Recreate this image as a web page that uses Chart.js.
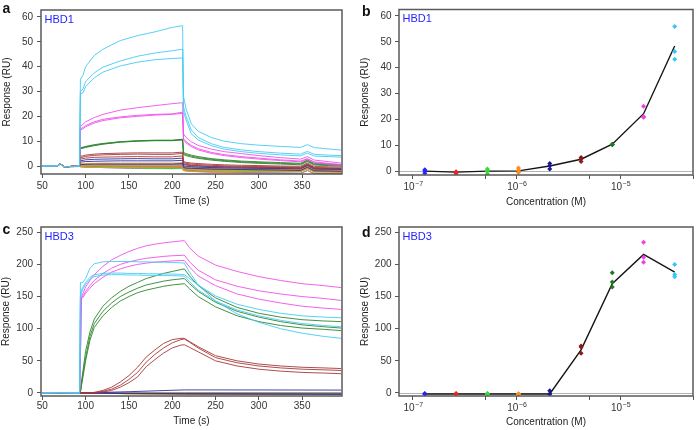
<!DOCTYPE html>
<html>
<head>
<meta charset="utf-8">
<script src="https://cdn.jsdelivr.net/npm/chart.js@4.4.1/dist/chart.umd.min.js"></script>
<style>
  body { margin: 0; background: #fff; }
  #wrap { position: relative; width: 700px; height: 430px; }
  #wrap canvas { position: absolute; }
</style>
</head>
<body>
<div id="wrap">
  <canvas id="panelA" width="350" height="215" style="left:0;top:0"></canvas>
  <canvas id="panelB" width="350" height="215" style="left:350px;top:0"></canvas>
  <canvas id="panelC" width="350" height="215" style="left:0;top:215px"></canvas>
  <canvas id="panelD" width="350" height="215" style="left:350px;top:215px"></canvas>
</div>
<script>
// ======= Data: concentrations (M), low -> high =======
const concentrations = [1.30e-7, 2.60e-7, 5.21e-7, 1.04e-6, 2.08e-6, 4.17e-6, 8.33e-6, 1.67e-5, 3.33e-5];
const timeTicks = [50, 100, 150, 200, 250, 300, 350];
const hbd1Ticks = [0, 10, 20, 30, 40, 50, 60];
const hbd3Ticks = [0, 50, 100, 150, 200, 250];
const concTicks = [1e-7, 5e-7, 1e-6, 5e-6, 1e-5, 5e-5];

// ======= HBD1 sensorgrams (panel a) =======
const timeA = [50, 68, 71, 75, 93, 94, 97, 100, 110, 120, 140, 160, 180, 200, 212, 213, 216, 222, 230, 245, 260, 280, 300, 325, 348, 356, 364, 380, 395];

const hbd1Blue = [
    [0, 0.1, 1.0, -0.3, 0, 0.3, 0.3, 0.4, 0.4, 0.5, 0.5, 0.5, 0.5, 0.5, 0.6, -0.4, -0.5, -0.6, -0.7, -0.8, -0.9, -0.9, -1.0, -1.0, -1.1, 0.1, -1.1, -1.2, -1.2],
    [0, 0.1, 1.0, -0.3, 0, 0.0, 0.0, 0.0, 0.0, 0.0, 0.0, 0.0, 0.0, 0.0, 0.1, -1.0, -1.1, -1.2, -1.3, -1.4, -1.5, -1.5, -1.6, -1.7, -1.7, -0.5, -1.8, -1.9, -1.9],
    [0, 0.1, 1.0, -0.3, 0, -0.2, -0.3, -0.4, -0.5, -0.6, -0.7, -0.8, -0.8, -0.8, -0.7, -1.7, -1.9, -2.1, -2.2, -2.4, -2.5, -2.6, -2.7, -2.8, -2.9, -1.8, -3.0, -3.0, -3.1]
];
const hbd1Red = [
    [0, 0.1, 1.0, -0.3, 0, 0.2, 0.1, 0.1, 0.0, 0.0, -0.1, -0.1, -0.2, -0.2, -0.1, -1.0, -1.1, -1.2, -1.2, -1.3, -1.3, -1.4, -1.4, -1.5, -1.5, -0.3, -1.6, -1.6, -1.7],
    [0, 0.1, 1.0, -0.3, 0, 0.0, -0.1, -0.1, -0.2, -0.3, -0.3, -0.4, -0.5, -0.5, -0.4, -1.3, -1.4, -1.5, -1.5, -1.6, -1.6, -1.7, -1.7, -1.8, -1.8, -0.6, -1.9, -1.9, -2.0],
    [0, 0.1, 1.0, -0.3, 0, -0.2, -0.3, -0.4, -0.5, -0.6, -0.7, -0.8, -0.9, -0.9, -0.8, -1.6, -1.7, -1.8, -1.9, -2.0, -2.0, -2.1, -2.1, -2.2, -2.2, -1.0, -2.3, -2.3, -2.4]
];
const hbd1Lime = [
    [0, 0.1, 0.9, -0.3, 0, 0.6, 0.6, 0.7, 0.7, 0.8, 0.8, 0.8, 0.8, 0.8, 0.9, -0.5, -0.6, -0.7, -0.8, -0.9, -1.0, -1.0, -1.1, -1.1, -1.2, 0.0, -1.2, -1.3, -1.3],
    [0, 0.1, 0.9, -0.3, 0, 0.0, 0.0, 0.0, 0.0, -0.1, -0.1, -0.1, -0.1, -0.1, 0.0, -1.2, -1.3, -1.4, -1.5, -1.6, -1.6, -1.7, -1.7, -1.8, -1.8, -0.6, -1.9, -1.9, -2.0],
    [0, 0.1, 0.9, -0.3, 0, -0.2, -0.3, -0.4, -0.5, -0.6, -0.7, -0.8, -1.0, -1.1, -1.0, -1.8, -1.9, -2.0, -2.0, -2.1, -2.1, -2.2, -2.2, -2.3, -2.3, -1.2, -2.4, -2.4, -2.5]
];
const hbd1Orange = [
    [0, 0.1, 0.8, -0.4, -0.1, 1.0, 1.0, 1.1, 1.1, 1.2, 1.2, 1.2, 1.2, 1.2, 1.4, -0.3, -0.5, -0.7, -0.8, -1.0, -1.1, -1.2, -1.3, -1.4, -1.5, -0.3, -1.6, -1.7, -1.8],
    [0, 0.1, 0.8, -0.4, -0.1, 0.2, 0.2, 0.3, 0.3, 0.3, 0.3, 0.3, 0.3, 0.3, 0.5, -1.0, -1.2, -1.4, -1.5, -1.7, -1.8, -1.9, -2.0, -2.1, -2.2, -1.0, -2.3, -2.4, -2.5],
    [0, 0.1, 0.8, -0.5, -0.2, -0.4, -0.4, -0.4, -0.5, -0.5, -0.5, -0.5, -0.5, -0.5, -0.4, -1.8, -2.0, -2.2, -2.3, -2.5, -2.6, -2.7, -2.8, -2.9, -3.0, -1.8, -3.1, -3.2, -3.3]
];
const hbd1Navy = [
    [0, 0.1, 1.0, -0.3, 0, 2.2, 2.3, 2.5, 2.7, 2.8, 2.9, 3.0, 2.9, 2.9, 3.2, 0.6, 0.4, 0.2, 0.0, -0.2, -0.3, -0.4, -0.5, -0.6, -0.7, 0.6, -0.8, -0.9, -1.0],
    [0, 0.1, 1.0, -0.3, 0, 1.6, 1.7, 1.8, 1.9, 2.0, 2.1, 2.1, 2.1, 2.1, 2.3, 0.1, -0.1, -0.2, -0.4, -0.6, -0.7, -0.8, -0.9, -1.0, -1.1, 0.2, -1.2, -1.3, -1.4],
    [0, 0.1, 1.0, -0.3, 0, 0.6, 0.6, 0.7, 0.8, 0.8, 0.8, 0.8, 0.8, 0.8, 1.0, -0.6, -0.8, -0.9, -1.0, -1.2, -1.3, -1.4, -1.5, -1.6, -1.8, -0.5, -1.9, -2.0, -2.1]
];
const hbd1Maroon = [
    [0, 0.1, 1.0, -0.3, 0, 3.9, 4.1, 4.4, 4.8, 5.0, 5.2, 5.3, 5.3, 5.3, 5.6, 1.8, 1.5, 1.2, 1.0, 0.7, 0.5, 0.3, 0.2, 0.0, -0.1, 1.2, -0.2, -0.3, -0.4],
    [0, 0.1, 1.0, -0.3, 0, 3.4, 3.6, 3.9, 4.3, 4.5, 4.7, 4.8, 4.7, 4.7, 5.1, 1.4, 1.1, 0.8, 0.6, 0.3, 0.1, -0.1, -0.2, -0.3, -0.5, 0.8, -0.6, -0.7, -0.8],
    [0, 0.1, 1.0, -0.3, 0, 2.8, 3.0, 3.2, 3.5, 3.6, 3.7, 3.8, 3.7, 3.7, 4.1, 1.0, 0.7, 0.4, 0.2, -0.1, -0.3, -0.5, -0.6, -0.7, -0.9, 0.4, -1.0, -1.1, -1.2]
];
const hbd1Green = [
    [0, 0.1, 1.0, -0.3, 0, 7.4, 7.6, 7.9, 8.6, 9.1, 9.8, 10.2, 10.4, 10.4, 10.8, 5.5, 5.0, 4.4, 3.8, 3.0, 2.5, 2.0, 1.7, 1.4, 1.1, 2.4, 1.0, 0.8, 0.6],
    [0, 0.1, 1.0, -0.3, 0, 7.2, 7.4, 7.7, 8.4, 8.9, 9.7, 10.1, 10.3, 10.3, 10.6, 5.0, 4.6, 4.0, 3.4, 2.7, 2.2, 1.7, 1.4, 1.1, 0.8, 2.1, 0.7, 0.5, 0.3],
    [0, 0.1, 1.0, -0.3, 0, 7.0, 7.2, 7.5, 8.2, 8.8, 9.6, 10.0, 10.2, 10.2, 10.5, 4.6, 4.2, 3.6, 3.1, 2.4, 1.9, 1.4, 1.1, 0.8, 0.5, 1.8, 0.4, 0.2, 0.0]
];
const hbd1Magenta = [
    [0, 0.1, 1.0, -0.3, 0, 16, 16.8, 17.8, 19.5, 20.8, 22.5, 23.5, 24.3, 25.1, 25.5, 13, 11.5, 9.8, 8.3, 6.8, 5.8, 5.0, 4.2, 3.4, 2.8, 3.8, 2.4, 1.8, 1.2],
    [0, 0.1, 1.0, -0.3, 0, 15, 15.5, 16.3, 17.8, 18.8, 19.8, 20.4, 20.8, 21.0, 21.7, 11, 9.8, 8.3, 7.0, 5.5, 4.6, 3.8, 3.2, 2.5, 2.0, 3.0, 1.7, 1.1, 0.6],
    [0, 0.1, 1.0, -0.3, 0, 14.5, 15, 15.8, 17.3, 18.3, 19.4, 20, 20.5, 20.8, 21.2, 10.5, 9.3, 7.8, 6.5, 5.1, 4.2, 3.4, 2.8, 2.2, 1.7, 2.7, 1.4, 0.8, 0.3]
];
const hbd1Cyan = [
    [0, 0.1, 1.0, -0.3, 0, 35, 36.5, 40, 44.5, 47, 50.5, 52.5, 54, 55.8, 56.5, 28, 23, 17, 14, 11.5, 10, 9, 8.4, 7.9, 7.5, 8.6, 7.4, 6.9, 6.4],
    [0, 0.1, 1.0, -0.3, 0, 30, 31, 34, 37.5, 39.8, 42.3, 44.2, 45.5, 46.4, 47, 24, 20, 14.5, 11.5, 9, 7.5, 6.5, 5.8, 5.2, 4.8, 5.9, 4.7, 4.4, 4.2],
    [0, 0.1, 1.0, -0.3, 0, 29, 29.5, 32, 35.5, 37.8, 40.3, 41.8, 42.8, 43.3, 43.5, 22, 18.5, 13, 10.5, 8.2, 6.8, 5.8, 5.1, 4.5, 4.1, 5.2, 4.0, 3.8, 3.6]
];
const hbd1Traces = [hbd1Blue, hbd1Red, hbd1Lime, hbd1Orange, hbd1Navy, hbd1Maroon, hbd1Green, hbd1Magenta, hbd1Cyan];

// ======= HBD1 dose response (panel b) =======
const hbd1Points = [
    [0.5, 0, -0.8], [-0.2, -0.5, -0.9], [0.8, -0.1, -1.1], [1.2, 0.3, -0.5], [2.9, 2.1, 0.8],
    [5.3, 4.7, 3.7], [10.4, 10.3, 10.2], [25.1, 21.0, 20.8], [55.9, 46.3, 43.3]
];
const hbd1Fit = [0.0, -0.4, 0.0, 0.1, 2.0, 4.6, 10.4, 22.2, 48.4];

// ======= HBD3 sensorgrams (panel c) =======
const timeC = [50, 70, 93, 94, 95, 97, 100, 105, 110, 120, 130, 140, 150, 160, 170, 180, 190, 200, 210, 214, 220, 230, 250, 275, 300, 325, 350, 375, 395];
const timeCLow = [50, 70, 93, 150, 214, 300, 395];

const hbd3Blue = [[0, 0.5, 0, -0.3, -0.6, -0.8, -1.0], [0, 0.5, 0, -0.8, -1.2, -1.4, -1.6], [0, 0.5, 0, 0.3, 0.2, 0.0, -0.2]];
const hbd3Red = [[0, 0.5, 0, -0.5, -0.9, -1.1, -1.3], [0, 0.5, 0, -1.0, -1.4, -1.7, -2.0], [0, 0.5, 0, 0.2, 0.0, -0.3, -0.5]];
const hbd3Lime = [[0, 0.5, 0, -0.4, -0.8, -1.0, -1.2], [0, 0.5, 0, -1.1, -1.5, -1.8, -2.1], [0, 0.5, 0, 0.4, 0.3, 0.1, 0.0]];
const hbd3Orange = [[0, 0.5, 0, -0.6, -1.0, -1.3, -1.5], [0, 0.5, 0, -1.2, -1.6, -1.9, -2.2], [0, 0.5, 0, 0.1, -0.2, -0.4, -0.7]];
const hbd3Navy = [[0, 0.5, 0, 2.0, 4.8, 4.7, 4.5], [0, 0.5, 0, -0.5, -1.0, -1.2, -1.5], [0, 0.5, 0, -1.0, -1.5, -1.8, -2.0]];
const hbd3Maroon = [
    [0, 0.5, 0, 0, 0, 0, 0, 0, 1, 4, 9, 17, 27, 40, 56, 67, 77, 83, 85, 85, 80, 72, 58, 50, 45, 42, 40, 39, 38],
    [0, 0.5, 0, 0, 0, 0, 0, 0, 0.5, 2.5, 6, 12, 21, 32, 48, 60, 70, 78, 83, 84, 79, 70, 55, 47, 42, 39, 37, 36, 35],
    [0, 0.5, 0, 0, 0, 0, 0, 0, 0, 1.5, 4, 9, 16, 25, 41, 52, 62, 70, 74.5, 75, 71, 64, 50, 42, 37, 34, 32, 31, 30]
];
const hbd3Green = [
    [0, 0.5, 0, 2, 15, 35, 65, 95, 115, 135, 148, 158, 166, 172, 178, 182, 186, 189, 192, 193, 182, 167, 148, 133, 124, 118, 114, 112, 111],
    [0, 0.5, 0, 1, 12, 30, 55, 88, 108, 127, 140, 150, 157, 163, 168, 171, 174, 176, 177.5, 178, 170, 158, 141, 127, 118, 111, 106, 103, 101],
    [0, 0.5, 0, 1, 10, 25, 50, 82, 102, 120, 133, 143, 150, 156, 160, 163, 166, 168, 169.5, 170, 162, 150, 134, 120, 111, 105, 101, 99, 97]
];
const hbd3Magenta = [
    [0, 0.5, 0, 60, 150, 155, 165, 175, 184, 197, 207, 214, 220, 225, 229, 231.5, 233.5, 235, 236.5, 237, 226, 213, 199, 189, 181, 175, 170, 167, 164],
    [0, 0.5, 0, 55, 148, 151, 158, 167, 175, 186, 194, 200, 204, 207, 209.5, 211, 212.5, 213.5, 214, 214.5, 204, 191, 176, 166, 159, 154, 150, 147, 144],
    [0, 0.5, 0, 50, 146, 149, 155, 163, 170, 180, 188, 193, 197, 200, 202, 203.5, 204.5, 205.5, 206, 206, 196, 182, 167, 154, 146, 140, 135, 132, 130]
];
const hbd3Cyan = [
    [0, 0.5, 0, 172, 172, 172, 178, 194, 201, 204, 204.5, 204.5, 204.5, 204, 204, 203.5, 203.5, 203, 202.5, 202, 188, 168, 143, 123, 110, 100, 93, 88, 85],
    [0, 0.5, 0, 150, 160, 165, 172, 180, 184, 186, 186.5, 186.5, 186, 186, 185.5, 185.5, 185, 185, 184.5, 184, 178, 168, 151, 138, 130, 124, 120, 118, 117],
    [0, 0.5, 0, 145, 155, 162, 169, 177, 181, 183.5, 184, 184, 183.5, 183.5, 183, 183, 182.5, 182.5, 182, 182, 173, 160, 143, 129, 120, 113, 108, 105, 103]
];
const hbd3LowTraces = [hbd3Blue, hbd3Red, hbd3Lime, hbd3Orange, hbd3Navy];
const hbd3HighTraces = [hbd3Maroon, hbd3Green, hbd3Magenta, hbd3Cyan];

// ======= HBD3 dose response (panel d) =======
const hbd3Points = [
    [-1.0, -1.5, -2.0], [-1.0, -1.5, -1.5], [-1.0, -1.2, -1.5], [-1.5, -1.5, -1.5], [3.5, -1.5, -1.5],
    [73, 71.5, 61.7], [187, 172.7, 164.9], [234.4, 211, 203.3], [200, 184.5, 181]
];
const hbd3Fit = [-1.5, -1.5, -1.5, -1.5, -1.5, 67, 170, 215.5, 188];

// ======= Styles =======
const concColors = ['#2424ff', '#ee2222', '#33dd33', '#ff8c1a', '#1a1a8a', '#8b1a1a', '#1f7a1f', '#f040e8', '#35c6f4'];
// traces are thin and look a bit lighter than the dots
const traceColors = ['#3a3aff', '#ee3030', '#44dd44', '#ff9030', '#3030a0', '#a83838', '#2f852f', '#f050ea', '#45cbf4'];
const FONT = '"Liberation Sans", Arial, sans-serif';
Chart.defaults.font.family = FONT;
Chart.defaults.font.size = 10;
Chart.defaults.color = '#333';

// ======= Build trace datasets for a sensorgram panel =======
function traceDatasets(times, groups, colorOffset) {
    const sets = [];
    groups.forEach((reps, gi) => {
        reps.forEach(vals => {
            sets.push({
                data: vals.map((v, i) => ({ x: times[i], y: v })),
                borderColor: traceColors[gi + colorOffset],
                borderWidth: 0.9,
                pointRadius: 0,
                fill: false,
                tension: 0
            });
        });
    });
    return sets;
}

// ======= Build dose response datasets =======
function doseDatasets(points, fit) {
    const sets = points.map((vals, gi) => ({
        type: 'scatter',
        data: vals.map(v => ({ x: concentrations[gi], y: v })),
        backgroundColor: concColors[gi],
        borderColor: concColors[gi],
        borderWidth: 0,
        pointStyle: 'rectRot',
        pointRadius: 2.5
    }));
    sets.reverse();
    sets.push({
        type: 'line',
        data: concentrations.map((c, i) => ({ x: c, y: fit[i] })),
        borderColor: '#151515',
        borderWidth: 1.4,
        pointRadius: 0,
        tension: 0
    });
    return sets;
}

// ======= Frame, labels and zero line =======
const decor = {
    id: 'decor',
    beforeDatasetsDraw(chart, args, opts) {
        if (!opts.zeroLine) return;
        const { ctx, chartArea: a } = chart;
        const y = Math.round(chart.scales.y.getPixelForValue(0)) + 0.5;
        ctx.save();
        ctx.strokeStyle = '#b4b4b4';
        ctx.lineWidth = 1;
        ctx.beginPath();
        ctx.moveTo(a.left, y);
        ctx.lineTo(a.right, y);
        ctx.stroke();
        ctx.restore();
    },
    afterDraw(chart, args, opts) {
        const { ctx, chartArea: a } = chart;
        ctx.save();
        ctx.strokeStyle = '#5a5a5a';
        ctx.lineWidth = 1.5;
        ctx.strokeRect(a.left, a.top, a.right - a.left, a.bottom - a.top);

        ctx.fillStyle = '#111';
        ctx.font = 'bold 14px ' + FONT;
        ctx.textBaseline = 'alphabetic';
        ctx.fillText(opts.letter, opts.letterX, opts.letterY);

        ctx.fillStyle = '#2424ff';
        ctx.font = '11px ' + FONT;
        ctx.textBaseline = 'middle';
        ctx.fillText(opts.tag, a.left + 3.5, a.top + 9.5);

        // power-of-ten labels with superscript exponent
        if (opts.powLabels) {
            const xs = chart.scales.x;
            ctx.fillStyle = '#333';
            ctx.textBaseline = 'alphabetic';
            concTicks.forEach(v => {
                const e = Math.log10(v);
                if (Math.abs(e - Math.round(e)) > 1e-9) return;
                const base = '10';
                const exp = '\u2212' + Math.abs(Math.round(e));
                ctx.font = '10px ' + FONT;
                const wb = ctx.measureText(base).width;
                ctx.font = '7px ' + FONT;
                const we = ctx.measureText(exp).width;
                const x0 = xs.getPixelForValue(v) - (wb + we) / 2;
                const y0 = a.bottom + 15;
                ctx.font = '10px ' + FONT;
                ctx.fillText(base, x0, y0);
                ctx.font = '7px ' + FONT;
                ctx.fillText(exp, x0 + wb + 0.5, y0 - 4.5);
            });
        }
        ctx.restore();
    }
};

function tickGrid() {
    return { display: true, drawOnChartArea: false, drawTicks: true, tickLength: 4, tickColor: '#555', tickWidth: 1 };
}

function setTicks(values) {
    return scale => { scale.ticks = values.map(v => ({ value: v })); };
}

// ======= Generic panel builder =======
function buildPanel(id, cfg) {
    new Chart(document.getElementById(id), {
        type: cfg.type,
        data: { datasets: cfg.datasets },
        options: {
            responsive: false,
            animation: false,
            devicePixelRatio: 1,
            layout: { padding: { top: cfg.padTop, right: cfg.padRight, left: 0, bottom: 0 } },
            plugins: {
                legend: { display: false },
                tooltip: { enabled: false },
                decor: cfg.decor
            },
            scales: {
                x: {
                    type: cfg.xType,
                    min: cfg.xMin,
                    max: cfg.xMax,
                    afterBuildTicks: setTicks(cfg.xTicks),
                    afterFit: s => { s.height = cfg.xHeight; },
                    grid: tickGrid(),
                    border: { display: false },
                    ticks: {
                        autoSkip: false, maxRotation: 0, padding: cfg.xTickPad, color: '#333',
                        callback: cfg.xLabel
                    },
                    title: { display: true, text: cfg.xTitle, color: '#222', padding: { top: 0, bottom: cfg.xTitlePad } }
                },
                y: {
                    type: 'linear',
                    min: cfg.yMin,
                    max: cfg.yMax,
                    afterBuildTicks: setTicks(cfg.yTicks),
                    afterFit: s => { s.width = cfg.yWidth; },
                    grid: tickGrid(),
                    border: { display: false },
                    ticks: { autoSkip: false, padding: cfg.yTickPad, color: '#333' },
                    title: { display: true, text: 'Response (RU)', color: '#222', padding: { top: cfg.yTitlePad, bottom: 0 } }
                }
            }
        },
        plugins: [decor]
    });
}

document.addEventListener('DOMContentLoaded', () => {
    // ---- a: HBD1 sensorgrams ----
    buildPanel('panelA', {
        type: 'line',
        datasets: traceDatasets(timeA, hbd1Traces, 0).reverse(),
        padTop: 6, padRight: 8,
        xType: 'linear', xMin: 48.5, xMax: 396, xTicks: timeTicks, xHeight: 41, xTickPad: 2,
        xTitle: 'Time (s)', xTitlePad: 8, xLabel: v => String(v),
        yMin: -3.2, yMax: 62.8, yTicks: hbd1Ticks, yWidth: 41, yTickPad: 4, yTitlePad: 1,
        decor: { letter: 'a', letterX: 2.5, letterY: 12.5, tag: 'HBD1' }
    });

    // ---- b: HBD1 dose response ----
    buildPanel('panelB', {
        type: 'scatter',
        datasets: doseDatasets(hbd1Points, hbd1Fit),
        padTop: 6, padRight: 7,
        xType: 'logarithmic', xMin: 7.33e-8, xMax: 5.0e-5, xTicks: concTicks, xHeight: 40, xTickPad: 2,
        xTitle: 'Concentration (M)', xTitlePad: 7, xLabel: () => '',
        yMin: -1.5, yMax: 62.5, yTicks: hbd1Ticks, yWidth: 49, yTickPad: 3.5, yTitlePad: 9,
        decor: { letter: 'b', letterX: 12, letterY: 16, tag: 'HBD1', zeroLine: true, powLabels: true }
    });

    // ---- c: HBD3 sensorgrams ----
    const cSets = traceDatasets(timeCLow, hbd3LowTraces, 0)
        .concat(traceDatasets(timeC, hbd3HighTraces, 5));
    buildPanel('panelC', {
        type: 'line',
        datasets: cSets.reverse(),
        padTop: 12, padRight: 8,
        xType: 'linear', xMin: 48.5, xMax: 396, xTicks: timeTicks, xHeight: 34, xTickPad: 0,
        xTitle: 'Time (s)', xTitlePad: 3, xLabel: v => String(v),
        yMin: -4.7, yMax: 258.2, yTicks: hbd3Ticks, yWidth: 41, yTickPad: 4, yTitlePad: 0,
        decor: { letter: 'c', letterX: 2.5, letterY: 18.5, tag: 'HBD3' }
    });

    // ---- d: HBD3 dose response ----
    buildPanel('panelD', {
        type: 'scatter',
        datasets: doseDatasets(hbd3Points, hbd3Fit),
        padTop: 12, padRight: 7,
        xType: 'logarithmic', xMin: 7.33e-8, xMax: 5.0e-5, xTicks: concTicks, xHeight: 34, xTickPad: 0,
        xTitle: 'Concentration (M)', xTitlePad: 2, xLabel: () => '',
        yMin: -4.7, yMax: 258.2, yTicks: hbd3Ticks, yWidth: 49, yTickPad: 3.5, yTitlePad: 9,
        decor: { letter: 'd', letterX: 12, letterY: 21.5, tag: 'HBD3', zeroLine: true, powLabels: true }
    });
});
</script>
</body>
</html>
